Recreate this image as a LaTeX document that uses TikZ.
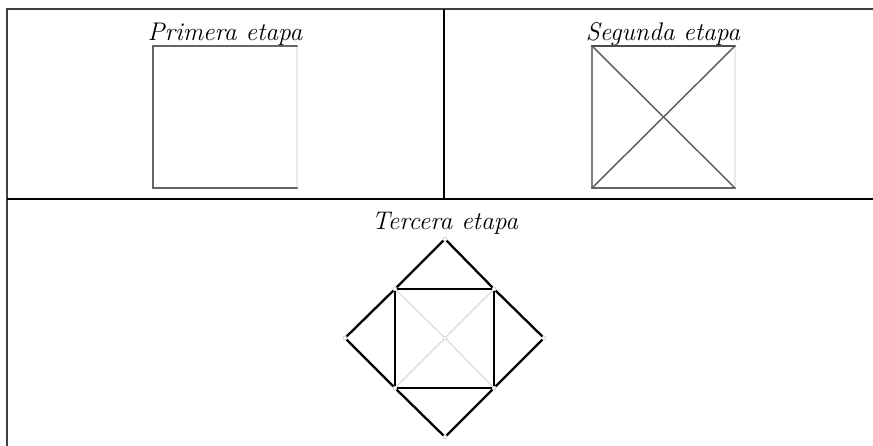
\documentclass[tikz,border=0pt]{standalone}
\usepackage{fontspec}
\begin{document}
\begin{tikzpicture}[x=1pt,y=-1pt,
  frame/.style={line width=2pt,black!75},
  rule/.style={line width=2.6pt,black},
  title/.style={anchor=base,inner sep=0pt,font=\itshape\fontsize{25.5}{30}\selectfont},
  edge/.style={line width=2.4pt,line cap=round},
  vtx/.style={circle,draw=black!22,fill=white,line width=0.6pt,inner sep=0pt,minimum size=4pt}]
  \clip (0,0) rectangle (873,445);

  % Cadre du tableau
  \draw[frame] (7,450) -- (7,9) -- (890,9);
  \draw[rule] (7,199) -- (890,199);
  \draw[line width=2.2pt] (444,9) -- (444,199);

  % Primera etapa
  \node[title] (t1) at (225,40) {Primera etapa};
  \coordinate (a1) at (153,46);
  \coordinate (a2) at (297,46);
  \coordinate (a3) at (297,188);
  \coordinate (a4) at (153,188);
  \draw[edge,black!8] (a2) -- (a3);
  \draw[edge,black!60] (a3) -- (a4) -- (a1) -- (a2);

  % Segunda etapa
  \node[title] (t2) at (663,40) {Segunda etapa};
  \coordinate (b1) at (592,46);
  \coordinate (b2) at (735,46);
  \coordinate (b3) at (735,188);
  \coordinate (b4) at (592,188);
  \draw[edge,black!8] (b2) -- (b3);
  \draw[edge,black!50] (b4) -- (b1);
  \draw[edge,black!70] (b1) -- (b2);
  \draw[edge,black!60] (b3) -- (b4);
  \draw[line width=1.4pt,black!65] (b1) -- (b3) (b2) -- (b4);

  % Tercera etapa
  \node[title] (t3) at (445,229) {Tercera etapa};
  \node[vtx] (c)  at (445,338) {};
  \node[vtx] (q1) at (395,289) {};
  \node[vtx] (q2) at (494,289) {};
  \node[vtx] (q3) at (494,388) {};
  \node[vtx] (q4) at (395,388) {};
  \node[vtx] (pn) at (445,239) {};
  \node[vtx] (pe) at (544,338) {};
  \node[vtx] (ps) at (445,437) {};
  \node[vtx] (pw) at (345,338) {};
  \draw[line width=0.8pt,black!18] (q1) -- (c) (c) -- (q3) (q2) -- (c) (c) -- (q4);
  \draw[line width=2.8pt] (q1) -- (q2) (q2) -- (q3) (q3) -- (q4) (q4) -- (q1);
  \draw[line width=2.3pt] (q1) -- (pn) (pn) -- (q2) (q2) -- (pe) (pe) -- (q3)
    (q3) -- (ps) (ps) -- (q4) (q4) -- (pw) (pw) -- (q1);
\end{tikzpicture}
\end{document}
